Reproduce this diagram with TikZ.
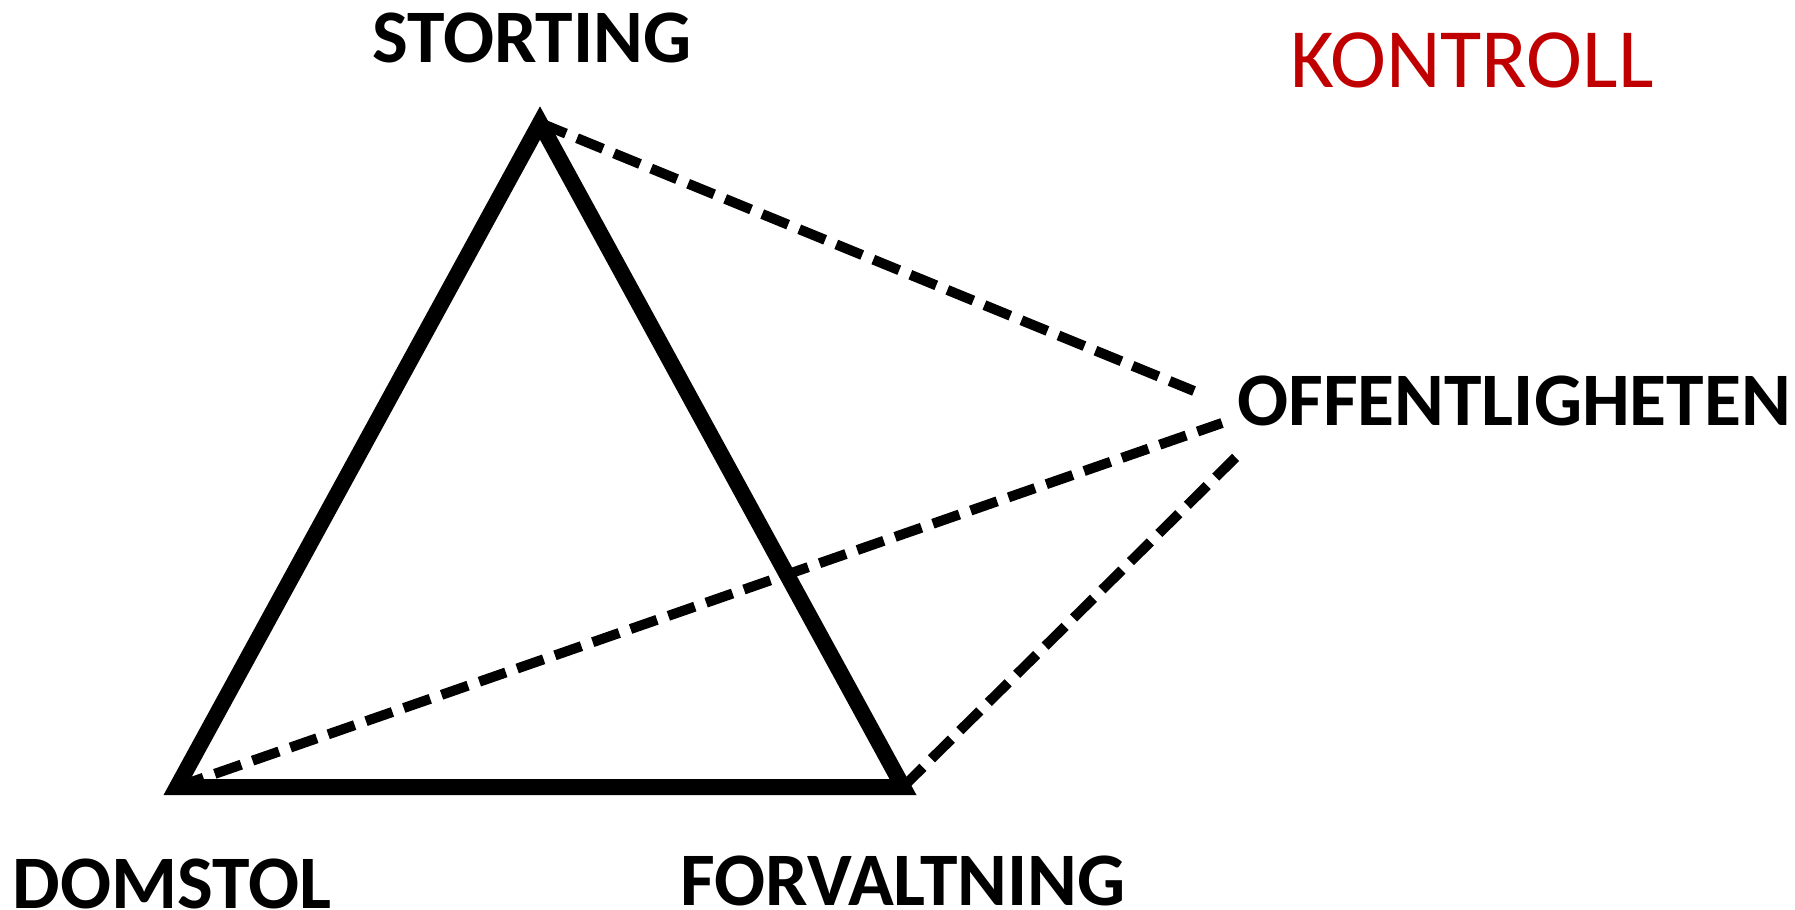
\documentclass[tikz,border=0pt]{standalone}
\usepackage{fontspec}
\setmainfont{Carlito}
\usepackage{tikz}
\usetikzlibrary{calc}
\definecolor{kontrollred}{HTML}{C00000}

\begin{document}
\begin{tikzpicture}[
    x=0.01cm, y=-0.01cm,
    place/.style={
        inner sep=0pt,
        font=\fontsize{21.5}{24}\selectfont\bfseries
    },
    heading/.style={
        inner sep=0pt,
        text=kontrollred,
        font=\fontsize{24}{28}\selectfont
    },
    side/.style={
        draw=black,
        line width=4.55pt,
        line join=miter
    },
    check/.style={
        draw=black,
        line width=2.85pt,
        dash pattern=on 0.28cm off 0.12cm
    }
]
\useasboundingbox (0,0) rectangle (1795,909);

% Nodes
\node (storting) [place] at (532,38) {STORTING};
\node (domstol) [place] at (172,884) {DOMSTOL};
\node (forvaltning) [place] at (903,881) {FORVALTNING};
\node (offentligheten) [place] at (1514,401) {OFFENTLIGHETEN};
\node (kontroll) [heading] at (1472,60) {KONTROLL};

\coordinate (s) at (540,123);
\coordinate (d) at (177,787);
\coordinate (f) at (903,787);
\coordinate (os) at (1194,391);
\coordinate (od) at (1222,423);
\coordinate (of) at (1238,455);

% Paths
\draw [side] (s) -- (d) -- (f) -- cycle;
\draw [check] (s) -- (os);
\draw [check] (d) -- (od);
\draw [check] (f) -- (of);

\end{tikzpicture}
\end{document}
